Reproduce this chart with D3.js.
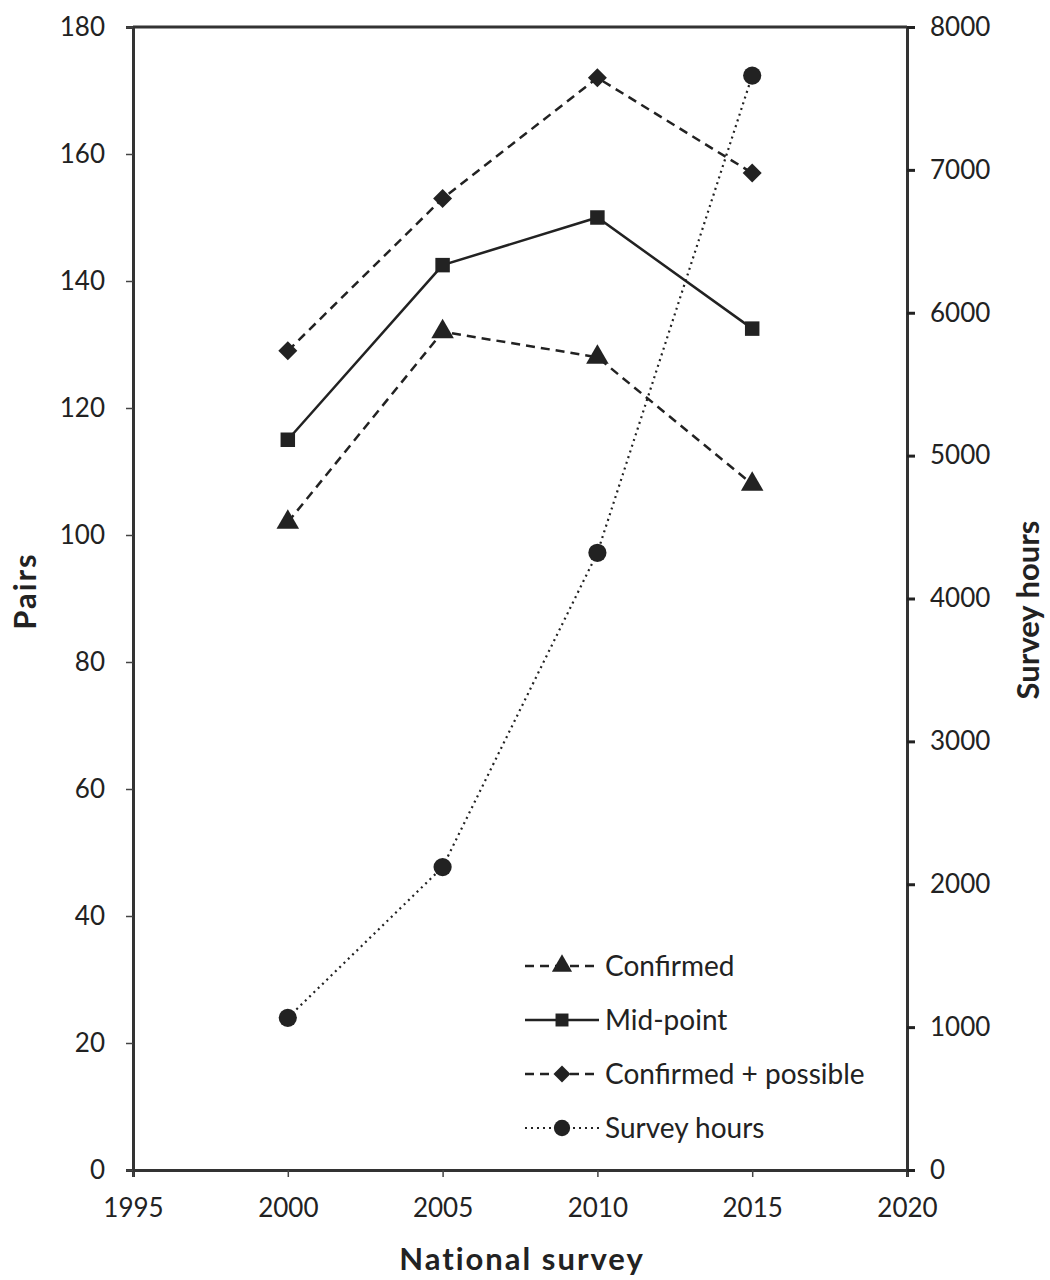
<!DOCTYPE html>
<html>
<head>
<meta charset="utf-8">
<script src="https://cdn.jsdelivr.net/npm/d3@7"></script>
<style>
  body { margin: 0; background: #fff; }
  svg text { font-family: Lato, "Open Sans", sans-serif; fill: #222; }
</style>
</head>
<body>
<svg id="chart" width="1050" height="1280"></svg>
<script>
// data
const years = [2000, 2005, 2010, 2015];
const confirmed = [102, 132, 128, 108];
const midPoint = [115, 142.5, 150, 132.5];
const confirmedPossible = [129, 153, 172, 157];
const surveyHours = [1065, 2120, 4320, 7660];

const xTicks = [1995, 2000, 2005, 2010, 2015, 2020];
const leftTicks = [0, 20, 40, 60, 80, 100, 120, 140, 160, 180];
const rightTicks = [0, 1000, 2000, 3000, 4000, 5000, 6000, 7000, 8000];

const svg = d3.select("#chart");
const margin = { top: 27, right: 143, bottom: 110, left: 133 };
const width = 1050 - margin.left - margin.right;
const height = 1280 - margin.top - margin.bottom;

const g = svg.append("g")
  .attr("transform", "translate(" + margin.left + "," + margin.top + ")");

const x = d3.scaleLinear().domain([1995, 2020]).range([0, width]);
const y = d3.scaleLinear().domain([0, 180]).range([height, 0]);
const y2 = d3.scaleLinear().domain([0, 8000]).range([height, 0]);

// axes
const xAxis = g.append("g")
  .attr("transform", "translate(0," + height + ")")
  .call(d3.axisBottom(x).tickValues(xTicks).tickFormat(d3.format("d")).tickSize(7).tickPadding(22));
const yAxis = g.append("g")
  .call(d3.axisLeft(y).tickValues(leftTicks).tickSize(7).tickPadding(21));
const yAxis2 = g.append("g")
  .attr("transform", "translate(" + width + ",0)")
  .call(d3.axisRight(y2).tickValues(rightTicks).tickFormat(d3.format("d")).tickSize(8).tickPadding(15));

[xAxis, yAxis, yAxis2].forEach(a => {
  a.selectAll("text").style("font-size", "26px").attr("fill", "#222");
  a.selectAll("line").attr("stroke", "#444").attr("stroke-width", 1.5);
  a.select(".domain").attr("stroke", "#333").attr("stroke-width", 3);
});
yAxis2.selectAll("line").attr("stroke", "#222").attr("stroke-width", 3);

// top border
g.append("line")
  .attr("x1", 0).attr("x2", width)
  .attr("y1", 0).attr("y2", 0)
  .attr("stroke", "#333").attr("stroke-width", 3);

// axis titles
svg.append("text")
  .attr("transform", "translate(36,591) rotate(-90)")
  .attr("text-anchor", "middle")
  .style("font-size", "31px").style("font-weight", "bold")
  .style("letter-spacing", "2px")
  .text("Pairs");
svg.append("text")
  .attr("transform", "translate(1039,610) rotate(-90)")
  .attr("text-anchor", "middle")
  .style("font-size", "31px").style("font-weight", "bold")
  .text("Survey hours");
svg.append("text")
  .attr("x", 522).attr("y", 1270)
  .attr("text-anchor", "middle")
  .style("font-size", "31px").style("font-weight", "bold")
  .style("letter-spacing", "2px")
  .text("National survey");

// square diamond symbol
const squareDiamond = {
  draw(context, size) {
    const r = Math.sqrt(size / 2);
    context.moveTo(0, -r);
    context.lineTo(r, 0);
    context.lineTo(0, r);
    context.lineTo(-r, 0);
    context.closePath();
  }
};

// series
const series = [
  { name: "Confirmed", values: confirmed, scale: y, dash: "9,6", width: 2.5, symbol: d3.symbolTriangle, size: 220 },
  { name: "Mid-point", values: midPoint, scale: y, dash: null, width: 2.5, symbol: d3.symbolSquare, size: 210 },
  { name: "Confirmed + possible", values: confirmedPossible, scale: y, dash: "9,6", width: 2.5, symbol: squareDiamond, size: 180 },
  { name: "Survey hours", values: surveyHours, scale: y2, dash: "2,4", width: 2.2, symbol: d3.symbolCircle, size: 260 }
];

series.forEach(s => {
  const line = d3.line()
    .x((d, i) => x(years[i]))
    .y(d => s.scale(d));
  g.append("path")
    .datum(s.values)
    .attr("fill", "none")
    .attr("stroke", "#222")
    .attr("stroke-width", s.width)
    .attr("stroke-dasharray", s.dash)
    .attr("d", line);
  g.selectAll(null)
    .data(s.values)
    .enter().append("path")
    .attr("transform", (d, i) => "translate(" + x(years[i]) + "," + s.scale(d) + ")")
    .attr("d", d3.symbol().type(s.symbol).size(s.size))
    .attr("fill", "#222");
});

// legend
const legend = svg.append("g").attr("transform", "translate(525,966)");
series.forEach((s, i) => {
  const row = legend.append("g").attr("transform", "translate(0," + (i * 54) + ")");
  row.append("line")
    .attr("x1", 0).attr("x2", 74)
    .attr("stroke", "#222")
    .attr("stroke-width", s.width)
    .attr("stroke-dasharray", s.dash);
  row.append("path")
    .attr("transform", "translate(37,0)")
    .attr("d", d3.symbol().type(s.symbol).size(s.size * 0.8))
    .attr("fill", "#222");
  row.append("text")
    .attr("x", 80).attr("dy", "0.35em")
    .style("font-size", "28px")
    .text(s.name);
});
</script>
</body>
</html>
